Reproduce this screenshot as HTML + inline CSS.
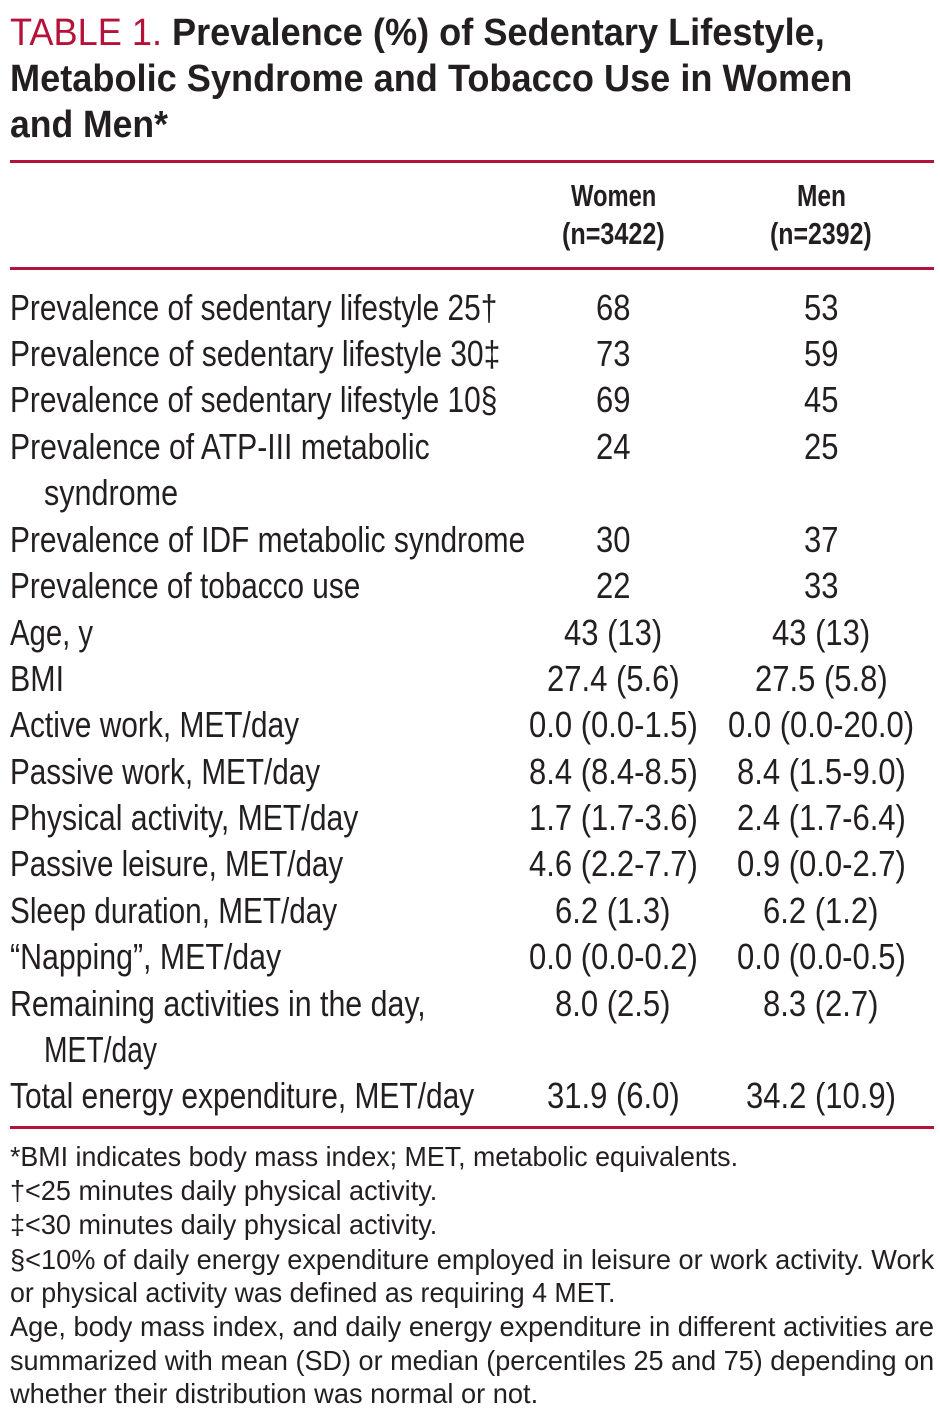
<!DOCTYPE html>
<html><head><meta charset="utf-8"><style>
html,body{margin:0;padding:0;background:#fff;}
body{width:940px;height:1422px;position:relative;overflow:hidden;font-family:"Liberation Sans",Arial,sans-serif;color:#231f20;}
.t{position:absolute;white-space:nowrap;transform-origin:0 50%;}
.ti{font-size:38px;font-weight:bold;line-height:46px;}
.ti .r{color:#b5123a;font-weight:normal;}
.h{font-size:31px;font-weight:bold;line-height:38px;}
.b{font-size:36px;line-height:46px;}
.fn{font-size:28px;line-height:34px;}
.rule{position:absolute;left:10px;width:924px;height:3px;background:#b5123a;}
</style></head><body>
<div class="rule" style="top:160px"></div>
<div class="rule" style="top:267px"></div>
<div class="rule" style="top:1126px"></div>
<div id="c"></div>
<script>
var L=[
['ti','<span class="r">TABLE 1.</span> Prevalence (%) of Sedentary Lifestyle,',10,33,815,'l'],
['ti','Metabolic Syndrome and Tobacco Use in Women',10,79,842,'l'],
['ti','and Men*',10,125,158,'l'],
['h','Women',613,196,85,'c'],['h','(n=3422)',613,234,103,'c'],
['h','Men',821,196,49,'c'],['h','(n=2392)',821,234,102,'c'],
['b','Prevalence of sedentary lifestyle 25†',10,308,487,'l'],
['b','Prevalence of sedentary lifestyle 30‡',10,354,490,'l'],
['b','Prevalence of sedentary lifestyle 10§',10,400,487,'l'],
['b','Prevalence of ATP-III metabolic',10,447,420,'l'],
['b','syndrome',44,493,134,'l'],
['b','Prevalence of IDF metabolic syndrome',10,540,515,'l'],
['b','Prevalence of tobacco use',10,586,350,'l'],
['b','Age, y',10,633,83,'l'],
['b','BMI',10,679,54,'l'],
['b','Active work, MET/day',10,725,289,'l'],
['b','Passive work, MET/day',10,772,310,'l'],
['b','Physical activity, MET/day',10,818,348,'l'],
['b','Passive leisure, MET/day',10,864,333,'l'],
['b','Sleep duration, MET/day',10,911,327,'l'],
['b','“Napping”, MET/day',10,957,271,'l'],
['b','Remaining activities in the day,',10,1004,416,'l'],
['b','MET/day',44,1050,113,'l'],
['b','Total energy expenditure, MET/day',10,1096,464,'l'],
['fn','*BMI indicates body mass index; MET, metabolic equivalents.',10,1157,728,'l'],
['fn','†<25 minutes daily physical activity.',10,1191,427,'l'],
['fn','‡<30 minutes daily physical activity.',10,1225,427,'l'],
['fn','§<10% of daily energy expenditure employed in leisure or work activity. Work',10,1260,924,'l'],
['fn','or physical activity was defined as requiring 4 MET.',10,1293,605,'l'],
['fn','Age, body mass index, and daily energy expenditure in different activities are',10,1327,924,'l'],
['fn','summarized with mean (SD) or median (percentiles 25 and 75) depending on',10,1361,924,'l'],
['fn','whether their distribution was normal or not.',10,1394,528,'l']
];
var Y=[308,354,400,447,493,540,586,633,679,725,772,818,864,911,957,1004,1050,1096];
var V=[['68','53'],['73','59'],['69','45'],['24','25'],null,['30','37'],['22','33'],['43 (13)','43 (13)'],['27.4 (5.6)','27.5 (5.8)'],['0.0 (0.0-1.5)','0.0 (0.0-20.0)'],['8.4 (8.4-8.5)','8.4 (1.5-9.0)'],['1.7 (1.7-3.6)','2.4 (1.7-6.4)'],['4.6 (2.2-7.7)','0.9 (0.0-2.7)'],['6.2 (1.3)','6.2 (1.2)'],['0.0 (0.0-0.2)','0.0 (0.0-0.5)'],['8.0 (2.5)','8.3 (2.7)'],null,['31.9 (6.0)','34.2 (10.9)']];
var c=document.getElementById('c');
function mk(cls,txt,cy){var d=document.createElement('div');d.className='t '+cls;d.innerHTML=txt;c.appendChild(d);var h=d.offsetHeight;d.style.top=(cy-h/2)+'px';return d;}
L.forEach(function(a){var d=mk(a[0],a[1],a[3]);var w=d.offsetWidth;var s=a[4]/w;var x=a[5]=='c'?a[2]-a[4]/2:a[2];d.style.left=x+'px';d.style.transform='scaleX('+s+')';});
var probe=mk('b','0.0 (0.0-20.0)',0);var gs=186/probe.offsetWidth;c.removeChild(probe);
V.forEach(function(v,i){if(!v)return;var cy=Y[i];[[v[0],613],[v[1],821]].forEach(function(p){var d=mk('b',p[0],cy);var w=d.offsetWidth*gs;d.style.left=(p[1]-w/2)+'px';d.style.transform='scaleX('+gs+')';});});
</script>
</body></html>
